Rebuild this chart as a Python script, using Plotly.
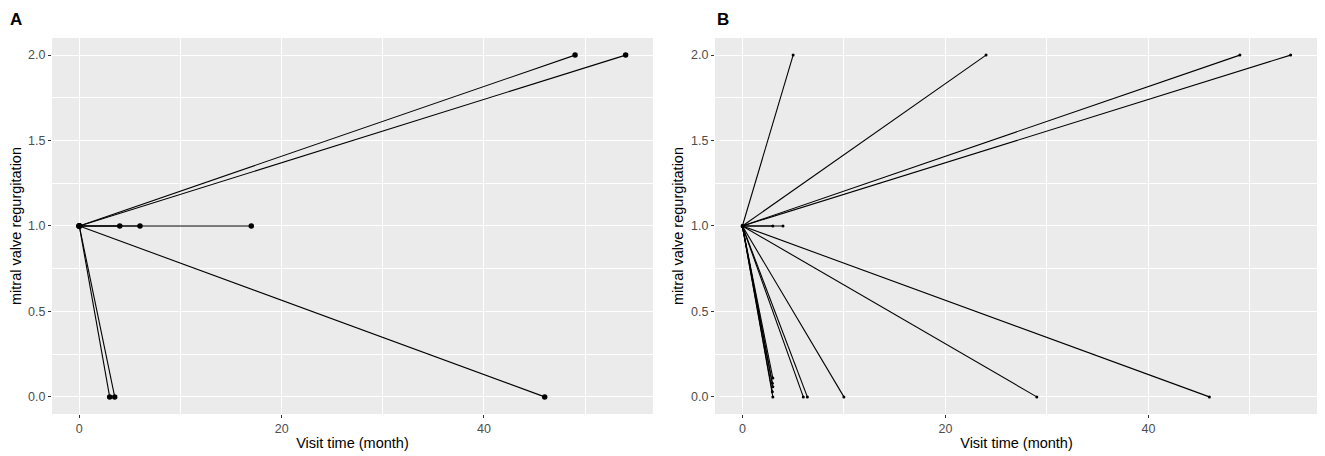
import plotly.graph_objects as go

# Panel A: every subject starts at (0, 1) and ends at the follow-up visit
a_time = [49, 54, 4, 6, 17, 46, 3, 3.5]
a_value = [2, 2, 1, 1, 1, 0, 0, 0]

# Panel B
b_time = [5, 24, 49, 54, 3, 4, 46, 29, 10, 6.4, 6, 3, 2.95, 3, 2.95, 3]
b_value = [2, 2, 2, 2, 1, 1, 0, 0, 0, 0, 0, 0.11, 0.08, 0.06, 0.03, 0]

start_time = 0
start_value = 1

fig = go.Figure()

for t, v in zip(a_time, a_value):
    fig.add_trace(go.Scatter(x=[start_time, t], y=[start_value, v], mode='lines+markers',
                             line=dict(color='black', width=1.1),
                             marker=dict(color='black', size=5.5),
                             xaxis='x', yaxis='y', showlegend=False))

for t, v in zip(b_time, b_value):
    fig.add_trace(go.Scatter(x=[start_time, t], y=[start_value, v], mode='lines+markers',
                             line=dict(color='black', width=1.1),
                             marker=dict(color='black', size=3),
                             xaxis='x2', yaxis='y2', showlegend=False))

xax = dict(range=[-2.7, 56.7], tick0=0, dtick=20, showgrid=True, gridcolor='white', gridwidth=1.2,
           minor=dict(dtick=10, showgrid=True, gridcolor='white', gridwidth=0.5),
           zeroline=False, ticks='outside', ticklen=3, tickcolor='#333333', tickwidth=1,
           tickfont=dict(size=12.5, color='#4D4D4D'), automargin=False,
           title=dict(text='Visit time (month)', font=dict(size=14.5, color='black'), standoff=2))
yax = dict(range=[-0.1, 2.1], tick0=0, dtick=0.5, tickformat='.1f', showgrid=True, gridcolor='white',
           gridwidth=1.2, minor=dict(dtick=0.25, showgrid=True, gridcolor='white', gridwidth=0.5),
           zeroline=False, ticks='outside', ticklen=3, tickcolor='#333333', tickwidth=1,
           tickfont=dict(size=12.5, color='#4D4D4D'), automargin=False,
           title=dict(text='mitral valve regurgitation', font=dict(size=14.5, color='black'), standoff=3))

# the page body keeps its default 8px margin, so the figure is a bit smaller than the window
fig.update_layout(
    width=1317, height=448,
    margin=dict(l=0, r=0, t=0, b=0),
    paper_bgcolor='white', plot_bgcolor='#EBEBEB',
    font=dict(family='Liberation Sans, Arial, sans-serif'),
    xaxis=dict(xax, domain=[0.0334, 0.4897], anchor='y'),
    yaxis=dict(yax, domain=[0.0938, 0.933], anchor='x'),
    xaxis2=dict(xax, domain=[0.5368, 0.9947], anchor='y2'),
    yaxis2=dict(yax, domain=[0.0938, 0.933], anchor='x2'),
    annotations=[
        dict(text='<b>A</b>', x=0.0, y=1.0, xref='paper', yref='paper', xanchor='left', yanchor='top',
             showarrow=False, font=dict(size=17, color='black')),
        dict(text='<b>B</b>', x=0.537, y=1.0, xref='paper', yref='paper', xanchor='left', yanchor='top',
             showarrow=False, font=dict(size=17, color='black')),
    ],
)

fig.write_html("out.html")
